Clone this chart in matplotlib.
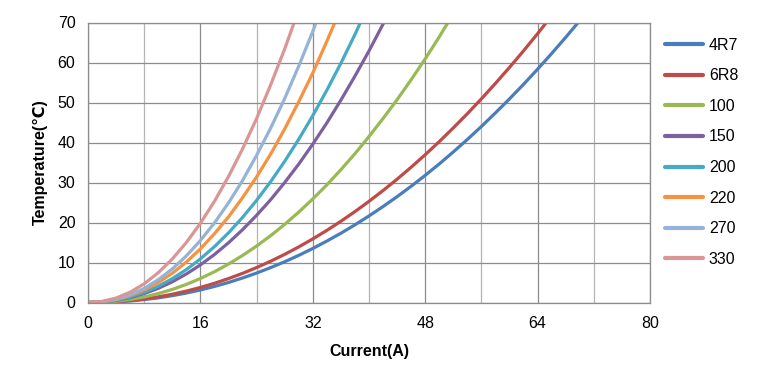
"""Temperature rise vs current for eight inductance values."""
import matplotlib
matplotlib.use("Agg")
import matplotlib.pyplot as plt
from matplotlib.ticker import MultipleLocator

plt.rcParams.update({
    "font.family": ["Liberation Sans", "DejaVu Sans"],
    "font.size": 11.5,
})

CURRENT = [0, 2, 4, 6, 8, 10, 12, 14, 16, 18, 20, 22, 24, 26, 28, 30, 32, 34,
           36, 38, 40, 42, 44, 46, 48, 50, 52, 54, 56, 58, 60, 62, 64, 66,
           68, 70, 72]

# values, one list per part (deg C)
T_4R7 = [0, 0.04, 0.17, 0.40, 0.73, 1.16, 1.71, 2.36, 3.13, 4.01, 5.01, 6.13,
         7.36, 8.72, 10.19, 11.79, 13.51, 15.36, 17.32, 19.42, 21.64, 23.99,
         26.46, 29.06, 31.79, 34.64, 37.64, 40.76, 44.01, 47.40, 50.91,
         54.55, 58.33, 62.25, 66.29, 70.47, 74.78]
T_6R8 = [0, 0.05, 0.21, 0.49, 0.89, 1.41, 2.07, 2.85, 3.76, 4.80, 5.98, 7.29,
         8.74, 10.32, 12.04, 13.90, 15.90, 18.03, 20.31, 22.73, 25.29, 27.99,
         30.83, 33.82, 36.95, 40.22, 43.65, 47.20, 50.92, 54.78, 58.78,
         62.92, 67.21, 71.67]
T_100 = [0, 0.07, 0.32, 0.76, 1.39, 2.23, 3.27, 4.53, 6.0, 7.69, 9.61, 11.75,
         14.12, 16.71, 19.54, 22.6, 25.9, 29.4, 33.2, 37.2, 41.5, 46.0, 50.7,
         55.7, 60.9, 66.4, 72.2]
T_150 = [0, 0.13, 0.53, 1.23, 2.23, 3.54, 5.17, 7.13, 9.4, 12.0, 14.93, 18.2,
         21.8, 25.7, 30.0, 34.6, 39.6, 44.9, 50.6, 56.6, 62.9, 69.6, 76.7]
T_200 = [0, 0.14, 0.59, 1.39, 2.54, 4.06, 5.96, 8.23, 10.9, 13.96, 17.41,
         21.28, 25.54, 30.21, 35.30, 40.81, 46.73, 53.08, 59.83, 67.0, 74.7]
T_220 = [0, 0.17, 0.73, 1.71, 3.13, 4.99, 7.32, 10.12, 13.4, 17.2, 21.4, 26.2,
         31.4, 37.1, 43.4, 50.2, 57.4, 65.3, 73.6]
T_270 = [0, 0.18, 0.81, 1.92, 3.54, 5.70, 8.40, 11.66, 15.5, 19.9, 24.9, 30.5,
         36.8, 43.6, 51.0, 59.1, 67.8, 77.2]
T_330 = [0, 0.26, 1.11, 2.57, 4.68, 7.45, 10.88, 15.0, 19.8, 25.3, 31.5, 38.4,
         46.0, 54.4, 63.4, 73.2]

LABELS = ["4R7", "6R8", "100", "150", "200", "220", "270", "330"]
SERIES = [T_4R7, T_6R8, T_100, T_150, T_200, T_220, T_270, T_330]
COLORS = ["#4A7EBB", "#BE4B48", "#98B954", "#7D60A0",
          "#46AAC5", "#F69240", "#95B3D7", "#D99694"]

fig = plt.figure(figsize=(7.65, 3.70), dpi=100)
ax = fig.add_axes([88 / 765, 67.5 / 370, 562 / 765, 280 / 370])

for lab, ys, c in zip(LABELS, SERIES, COLORS):
    ax.plot(CURRENT[:len(ys)], ys, color=c, lw=2.3, label=lab,
            solid_capstyle="round", solid_joinstyle="round")

ax.set_xlim(0, 80)
ax.set_ylim(0, 70)
ax.xaxis.set_major_locator(MultipleLocator(16))
ax.xaxis.set_minor_locator(MultipleLocator(8))
ax.yaxis.set_major_locator(MultipleLocator(10))
ax.grid(True, which="major", color="#8c8c8c", lw=0.9)
ax.grid(True, which="minor", axis="x", color="#b4b4b4", lw=0.9)
ax.set_axisbelow(True)
for s in ax.spines.values():
    s.set_color("#8c8c8c")
    s.set_linewidth(0.9)
ax.tick_params(which="both", length=0, labelsize=11.5)
ax.tick_params(axis="x", pad=10)
ax.tick_params(axis="y", pad=9)

ax.set_xlabel("Current(A)", fontweight="bold", fontsize=11.5, labelpad=9)
ax.set_ylabel("Temperature(℃)", fontweight="bold", fontsize=11.5, labelpad=7)

ax.legend(loc="upper left", bbox_to_anchor=(665 / 765, 1 - 37.5 / 370),
          bbox_transform=fig.transFigure, frameon=False, fontsize=11.5,
          handlelength=2.35, handletextpad=0.4, labelspacing=0.98,
          borderaxespad=0, borderpad=0)
for h in ax.get_legend().get_lines():
    h.set_linewidth(3.0)

fig.savefig("out.png", dpi=100)
